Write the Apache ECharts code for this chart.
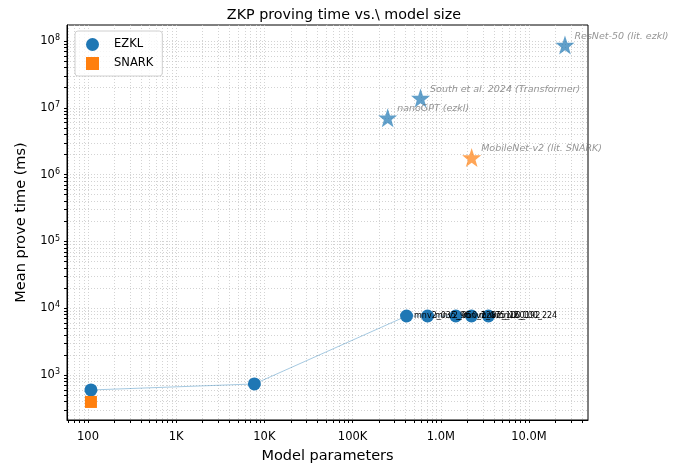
<!DOCTYPE html>
<html>
<head>
<meta charset="utf-8">
<script src="https://cdn.jsdelivr.net/npm/echarts@6/dist/echarts.min.js"></script>
<style>
  html, body { margin: 0; padding: 0; background: #fff; }
  #chart { width: 689px; height: 464px; }
</style>
</head>
<body>
<div id="chart"></div>
<script>
// measured EZKL runs (params, mean prove ms)
var ezklParams = [108, 7700, 409000, 708000, 1480000, 2230000, 3470000]
var ezklTimes = [597, 735, 7640, 7640, 7640, 7640, 7640]
var ezklLabels = ['', '', 'mnv2_035_96', 'mnv2_050_128', 'mnv2_075_160', 'mnv2_100_192', 'mnv2_100_224']

// measured SNARK run
var snarkParams = [108]
var snarkTimes = [395]

// literature reference points
var litNames = ['nanoGPT (ezkl)', 'South et al. 2024 (Transformer)', 'ResNet-50 (lit. ezkl)', 'MobileNet-v2 (lit. SNARK)']
var litParams = [250000, 590000, 25600000, 2240000]
var litTimes = [7100000, 14000000, 87000000, 1800000]
var litKind = ['ezkl', 'ezkl', 'ezkl', 'snark']

// tick labels
var xTickValues = [100, 1000, 10000, 100000, 1000000, 10000000]
var xTickLabels = ['100', '1K', '10K', '100K', '1.0M', '10.0M']
var yTickValues = [1000, 10000, 100000, 1000000, 10000000, 100000000]
var yTickExps = ['3', '4', '5', '6', '7', '8']

var BLUE = '#1f77b4'
var ORANGE = '#ff7f0e'
var FONT = 'DejaVu Sans'
var STAR = 'path://M0,-10 L2.35,-3.24 L9.51,-3.09 L3.8,1.24 L5.88,8.09 L0,4 L-5.88,8.09 L-3.8,1.24 L-9.51,-3.09 L-2.35,-3.24 Z'

// major + minor positions for ticks / dotted grid
function logTicks(lo, hi) {
    var out = []
    for (var d = lo; d <= hi; d *= 10) {
        for (var k = 1; k <= 9; k++) out.push(d * k)
    }
    return out
}

function zip(xs, ys) {
    return xs.map(function (x, i) { return [x, ys[i]] })
}

var litEzkl = [], litSnark = []
litParams.forEach(function (p, i) {
    var item = { value: [p, litTimes[i]], name: litNames[i] }
    if (litKind[i] === 'ezkl') litEzkl.push(item)
    else litSnark.push(item)
})

var starLabel = {
    show: true,
    position: 'right',
    distance: 0,
    offset: [0, -9],
    formatter: function (p) { return p.name },
    fontFamily: FONT,
    fontSize: 9.5,
    fontStyle: 'italic',
    color: '#666666'
}

var chart = echarts.init(document.getElementById('chart'), null, { renderer: 'canvas' })

var option = {
    animation: false,
    textStyle: { fontFamily: FONT },
    title: {
        text: 'ZKP proving time vs.\\ model size',
        left: 339,
        textAlign: 'center',
        top: 3,
        textStyle: { fontFamily: FONT, fontSize: 14.3, fontWeight: 'normal', color: '#000' }
    },
    legend: {
        orient: 'vertical',
        left: 75,
        top: 31,
        data: [
            { name: 'EZKL', icon: 'circle' },
            { name: 'SNARK', icon: 'rect' }
        ],
        itemWidth: 13,
        itemHeight: 13,
        itemGap: 6,
        padding: [7, 9, 6, 11],
        borderColor: '#d0d0d0',
        borderWidth: 1,
        borderRadius: 3,
        backgroundColor: 'rgba(255,255,255,0.8)',
        textStyle: { fontFamily: FONT, fontSize: 11.5, color: '#000', padding: [0, 0, 0, 10] }
    },
    grid: {
        left: 67, right: 101, top: 25, bottom: 44,
        outerBoundsMode: 'none',
        containLabel: false,
        show: true,
        borderColor: '#000',
        borderWidth: 1
    },
    xAxis: {
        type: 'log',
        min: 57.8,
        max: 46700000,
        name: 'Model parameters',
        nameLocation: 'middle',
        nameGap: 29,
        nameTextStyle: { fontFamily: FONT, fontSize: 14.5, color: '#000' },
        axisLine: { lineStyle: { color: '#000' } },
        axisTick: {
            customValues: logTicks(10, 10000000),
            length: 3,
            lineStyle: { color: '#000' }
        },
        axisLabel: {
            customValues: xTickValues,
            margin: 11,
            fontFamily: FONT,
            fontSize: 11.5,
            color: '#000',
            formatter: function (v) {
                var i = xTickValues.indexOf(v)
                return i >= 0 ? xTickLabels[i] : ''
            }
        },
        splitLine: {
            show: true,
            lineStyle: { color: '#c8c8c8', type: [1, 2], width: 0.8 }
        }
    },
    yAxis: {
        type: 'log',
        min: 212,
        max: 174000000,
        name: 'Mean prove time (ms)',
        nameLocation: 'middle',
        nameGap: 38,
        nameTextStyle: { fontFamily: FONT, fontSize: 14.5, color: '#000' },
        axisLine: { show: true, lineStyle: { color: '#000' } },
        axisTick: {
            show: true,
            customValues: logTicks(100, 100000000),
            length: 3,
            lineStyle: { color: '#000' }
        },
        axisLabel: {
            customValues: yTickValues,
            margin: 7,
            color: '#000',
            formatter: function (v) {
                var i = yTickValues.indexOf(v)
                return i >= 0 ? '10{sup|' + yTickExps[i] + '}' : ''
            },
            rich: {
                sup: { fontFamily: FONT, fontSize: 8, color: '#000', verticalAlign: 'top', padding: [0, 0, 6, 0] }
            },
            fontFamily: FONT,
            fontSize: 11.5
        },
        splitLine: {
            show: true,
            lineStyle: { color: '#c8c8c8', type: [1, 2], width: 0.8 }
        }
    },
    series: [
        {
            name: 'EZKL',
            type: 'line',
            data: ezklParams.map(function (p, i) {
                return { value: [p, ezklTimes[i]], name: ezklLabels[i] }
            }),
            symbol: 'circle',
            symbolSize: 13,
            itemStyle: { color: BLUE },
            lineStyle: { color: 'rgba(31,119,180,0.4)', width: 1 },
            label: {
                show: true,
                position: 'right',
                distance: 1,
                offset: [0, -7],
                formatter: function (p) { return p.name },
                fontFamily: FONT,
                fontSize: 8,
                color: '#000'
            },
            labelLayout: { hideOverlap: false },
            z: 3
        },
        {
            name: 'SNARK',
            type: 'scatter',
            data: zip(snarkParams, snarkTimes),
            symbol: 'rect',
            symbolSize: 12,
            itemStyle: { color: ORANGE, opacity: 1 },
            z: 3
        },
        {
            name: 'lit-ezkl',
            type: 'scatter',
            data: litEzkl,
            symbol: STAR,
            symbolSize: 19,
            itemStyle: { color: BLUE, opacity: 0.7 },
            label: starLabel,
            z: 4
        },
        {
            name: 'lit-snark',
            type: 'scatter',
            data: litSnark,
            symbol: STAR,
            symbolSize: 19,
            itemStyle: { color: ORANGE, opacity: 0.7 },
            label: starLabel,
            z: 4
        }
    ]
}

chart.setOption(option)
</script>
</body>
</html>
